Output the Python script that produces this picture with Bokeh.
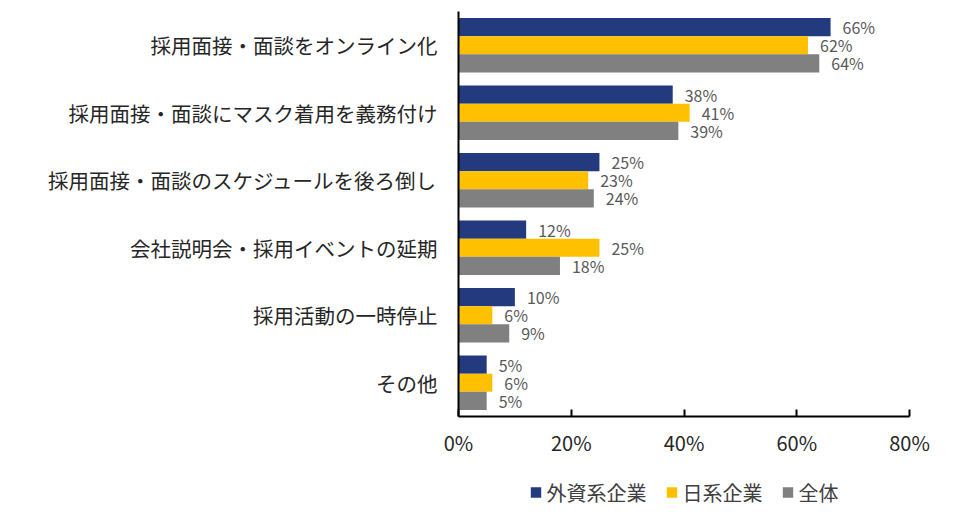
from bokeh.plotting import figure
from bokeh.layouts import column
from bokeh.models import (ColumnDataSource, FactorRange, Range1d, Legend, LegendItem,
                          PrintfTickFormatter, FixedTicker)
from bokeh.transform import dodge
from bokeh.core.properties import value
from bokeh.embed import file_html
from bokeh.resources import INLINE

categories = [
    "採用面接・面談をオンライン化",
    "採用面接・面談にマスク着用を義務付け",
    "採用面接・面談のスケジュールを後ろ倒し",
    "会社説明会・採用イベントの延期",
    "採用活動の一時停止",
    "その他",
]
foreign = [66, 38, 25, 12, 10, 5]
domestic = [62, 41, 23, 25, 6, 6]
total = [64, 39, 24, 18, 9, 5]
series_names = ["外資系企業", "日系企業", "全体"]
x_ticks = [0, 20, 40, 60, 80]

colors = ["#243A7E", "#FFC000", "#808080"]
FONT = "Noto Sans CJK JP"

src = ColumnDataSource(dict(
    cat=categories,
    foreign=foreign, domestic=domestic, total=total,
    flab=[f"{v}%" for v in foreign],
    dlab=[f"{v}%" for v in domestic],
    tlab=[f"{v}%" for v in total],
))

p = figure(y_range=FactorRange(factors=categories[::-1]), x_range=Range1d(0, 80),
           width=947, height=462, output_backend="svg", toolbar_location=None,
           min_border_left=458, min_border_right=38, min_border_top=11, min_border_bottom=46)

bh = 0.27
for col, lab, off, c in [("foreign", "flab", bh, colors[0]),
                         ("domestic", "dlab", 0.0, colors[1]),
                         ("total", "tlab", -bh, colors[2])]:
    p.hbar(y=dodge("cat", off, range=p.y_range), left=0, right=col, height=bh,
           source=src, fill_color=c, line_color=None)
    p.text(x=col, y=dodge("cat", off, range=p.y_range), text=lab, source=src,
           x_offset=12, text_align="left", text_baseline="middle",
           text_font=value(FONT), text_font_size="16px", text_color="#595959")

p.xgrid.visible = False
p.ygrid.visible = False
p.outline_line_color = None

p.xaxis.ticker = FixedTicker(ticks=x_ticks)
p.xaxis.formatter = PrintfTickFormatter(format="%d%%")
p.xaxis.axis_line_color = "black"
p.xaxis.axis_line_width = 2
p.xaxis.major_tick_line_color = "black"
p.xaxis.major_tick_line_width = 2
p.xaxis.major_tick_in = 7
p.xaxis.major_tick_out = 0
p.xaxis.minor_tick_line_color = None
p.xaxis.major_label_text_font = FONT
p.xaxis.major_label_text_font_size = "20px"
p.xaxis.major_label_text_color = "#262626"
p.xaxis.major_label_standoff = 11

p.yaxis.axis_line_color = "black"
p.yaxis.axis_line_width = 2
p.yaxis.major_tick_line_color = None
p.yaxis.minor_tick_line_color = None
p.yaxis.major_label_text_font = FONT
p.yaxis.major_label_text_font_size = "20.5px"
p.yaxis.major_label_text_color = "#262626"
p.yaxis.major_label_standoff = 15

# legend strip below the chart (swatch renderers hold one point outside the visible range)
lg = figure(width=947, height=45, output_backend="svg", toolbar_location=None,
            x_range=Range1d(0, 1), y_range=Range1d(0, 1),
            min_border_left=400, min_border_right=3, min_border_top=15, min_border_bottom=0,
            outline_line_color=None)
lg.axis.visible = False
lg.grid.visible = False
hidden = ColumnDataSource(dict(y=[-10], left=[-6], right=[-5]))
lrs = [lg.hbar(y="y", right="right", left="left", height=1, source=hidden,
               fill_color=c, line_color=None) for c in colors]
legend = Legend(items=[LegendItem(label=n, renderers=[r]) for n, r in zip(series_names, lrs)],
                orientation="horizontal", location="center",
                label_text_font=FONT, label_text_font_size="20px", label_text_color="#404040",
                glyph_width=13, glyph_height=13, label_standoff=5, spacing=18,
                padding=0, margin=0, border_line_color=None, background_fill_alpha=0)
lg.add_layout(legend, "center")

open("out.html", "w").write(file_html(column(p, lg, spacing=0), INLINE))
